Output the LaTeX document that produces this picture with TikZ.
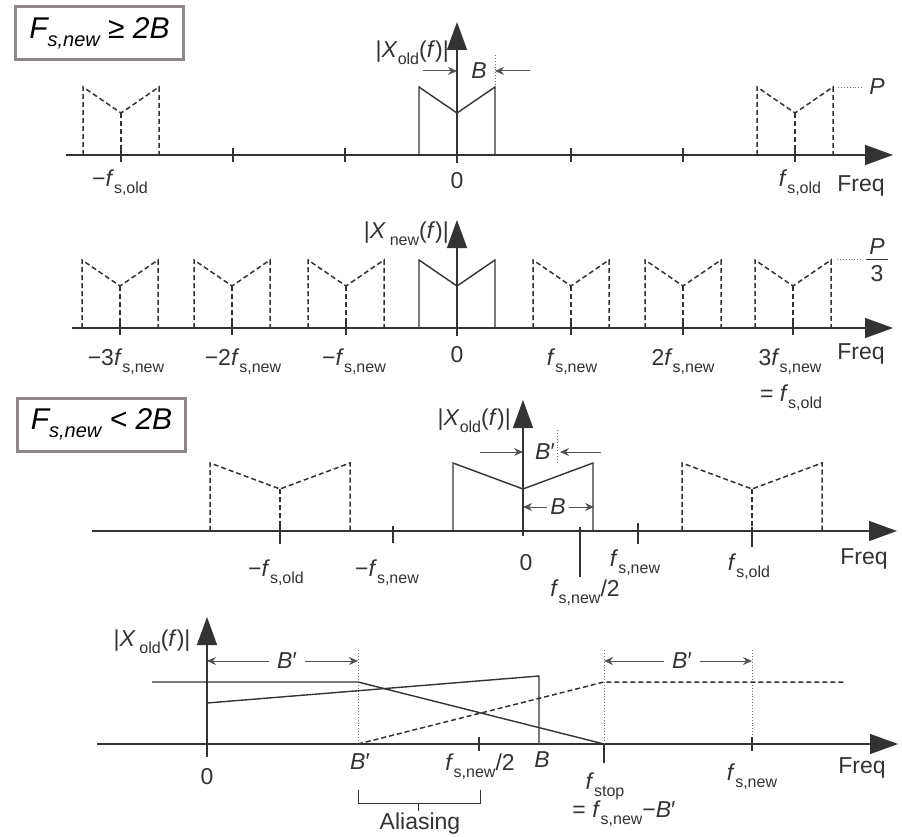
\documentclass[tikz,border=0pt]{standalone}
\usepackage{fontspec}
\setmainfont{Liberation Sans}
\usetikzlibrary{arrows.meta}
\definecolor{ink}{HTML}{333333}
\definecolor{boxgray}{HTML}{8E8787}
\newcommand{\sbs}[1]{\raisebox{-7pt}{\fontsize{16}{16}\selectfont #1}}
\newcommand{\ff}{\textit{f}}
\newcommand{\specshape}[4]{%
  \draw[#4] ({#1-#2},#3) -- ({#1-#2},{#3-68}) -- (#1,{#3-42}) -- ({#1+#2},{#3-68}) -- ({#1+#2},#3);
  \draw[#4] (#1,{#3-42}) -- (#1,#3);}
\begin{document}
\begin{tikzpicture}[x=1pt,y=-1pt,
  lbl/.style={font=\fontsize{23}{26}\selectfont, text=ink, inner sep=0pt},
  axisline/.style={draw=ink, line width=1.4pt},
  bigtip/.style={-{Triangle[length=28pt,width=20pt]}},
  spec/.style={draw=ink, line width=1.4pt},
  dsh/.style={draw=ink, line width=1.5pt, dash pattern=on 5pt off 3pt},
  dotl/.style={draw=ink!70, line width=0.9pt, dotted},
  small/.style={draw=ink!85, line width=1pt, -{Stealth[length=9pt,width=8pt]}},
  tickl/.style={draw=ink, line width=1.4pt},
  casebox/.style={draw=boxgray, line width=3pt, fill=white, minimum width=168pt, minimum height=53pt, inner sep=0pt, font=\fontsize{30}{32}\selectfont\itshape}]
\useasboundingbox (0,0) rectangle (902,837);
\fill[white] (0,0) rectangle (902,837);

% ---------- case boxes
\node[casebox] (case1) at (99.5,33) {F\raisebox{-8pt}{\fontsize{20}{20}\selectfont s,new} ≥ 2B};
\node[casebox] (case2) at (101.5,424.5) {F\raisebox{-8pt}{\fontsize{20}{20}\selectfont s,new} < 2B};

% ---------- panel 1
\draw[axisline,bigtip] (66,155) -- (893,155);
\foreach \x in {121,233,345,571,683,795} \draw[tickl] (\x,148) -- (\x,162);
\specshape{457}{38}{155}{spec}
\specshape{121}{38}{155}{dsh}
\specshape{795}{38}{155}{dsh}
\draw[axisline,bigtip] (457,163) -- (457,22);
\node[lbl] (B1) at (479,71) {\textit{B}};
\draw[small] (423,71) -- (457,71);
\draw[small] (530,71) -- (495,71);
\draw[dotl] (495,55) -- (495,87);
\draw[dotl] (838,87) -- (863,87);
\node[lbl] (P1) at (877,87) {\textit{P}};
\node[lbl, anchor=east] (X1) at (449,53) {|\textit{X}\sbs{old}(\ff)|};
\node[lbl] (l1a) at (120,183) {−\ff\sbs{s,old}};
\node[lbl] (l1b) at (457,181) {0};
\node[lbl] (l1c) at (800,183) {\ff\sbs{s,old}};
\node[lbl] (l1d) at (861,186) {Freq};

% ---------- panel 2
\draw[axisline,bigtip] (72,328) -- (893,328);
\foreach \x in {120,232,346,571,683,793} \draw[tickl] (\x,321) -- (\x,335);
\specshape{457}{38}{328}{spec}
\foreach \x in {120,232,346,571,683,793} {\specshape{\x}{38}{328}{dsh}}
\draw[axisline,bigtip] (457,336) -- (457,220);
\draw[dotl] (837,259) -- (863,259);
\node[lbl] (P2) at (877,247) {\textit{P}};
\draw[ink, line width=1.1pt] (866,259.5) -- (888,259.5);
\node[lbl] (P3) at (877,274) {3};
\node[lbl, anchor=east] (X2) at (449,234) {|\textit{X}\,\sbs{new}(\ff)|};
\node[lbl] (l2a) at (126,362) {−3\ff\sbs{s,new}};
\node[lbl] (l2b) at (243,362) {−2\ff\sbs{s,new}};
\node[lbl] (l2c) at (354,362) {−\ff\sbs{s,new}};
\node[lbl] (l2d) at (457,355) {0};
\node[lbl] (l2e) at (572,362) {\ff\sbs{s,new}};
\node[lbl] (l2f) at (683,362) {2\ff\sbs{s,new}};
\node[lbl] (l2g) at (790,362) {3\ff\sbs{s,new}};
\node[lbl] (l2h) at (791,398) {= \ff\sbs{s,old}};
\node[lbl] (l2i) at (861,354) {Freq};

% ---------- panel 3
\draw[axisline,bigtip] (92,531) -- (897,531);
\draw[tickl] (280,524) -- (280,544);
\draw[tickl] (393,526) -- (393,543);
\draw[tickl] (580,527) -- (580,577);
\draw[tickl] (638,523) -- (638,544);
\draw[tickl] (752,527) -- (752,547);
\specshape{523}{70}{531}{spec}
\specshape{280}{70}{531}{dsh}
\specshape{752}{70}{531}{dsh}
\draw[axisline,bigtip] (523,536) -- (523,400);
\node[lbl] (Bp3) at (545,452) {\textit{B}′};
\draw[small] (480,452) -- (523,452);
\draw[small] (601,452) -- (560,452);
\draw[dotl] (557,430) -- (557,462);
\node[lbl] (B3) at (558,507) {\textit{B}};
\draw[small] (547,507) -- (523,507);
\draw[small] (569,507) -- (594,507);
\node[lbl, anchor=east] (X3) at (511,421) {|\textit{X}\sbs{old}(\ff)|};
\node[lbl] (l3a) at (276,573) {−\ff\sbs{s,old}};
\node[lbl] (l3b) at (387,573) {−\ff\sbs{s,new}};
\node[lbl] (l3c) at (526,563) {0};
\node[lbl] (l3d) at (585,593) {\ff\sbs{s,new}/2};
\node[lbl] (l3e) at (635,563) {\ff\sbs{s,new}};
\node[lbl] (l3f) at (749,567) {\ff\sbs{s,old}};
\node[lbl] (l3g) at (864,559) {Freq};

% ---------- panel 4
\draw[axisline,bigtip] (97,744) -- (898,744);
\draw[axisline,bigtip] (207,757) -- (207,617);
\node[lbl] (X4) at (152,642) {|\textit{X}\,\sbs{old}(\ff)|};
\draw[dotl] (358,650) -- (358,744);
\draw[dotl] (604,650) -- (604,744);
\draw[dotl] (752,650) -- (752,744);
\node[lbl] (Bp4a) at (287,661) {\textit{B}′};
\draw[small] (Bp4a.west) ++(-8,0) -- (207,661);
\draw[small] (Bp4a.east) ++(8,0) -- (358,661);
\node[lbl] (Bp4b) at (682,661) {\textit{B}′};
\draw[small] (Bp4b.west) ++(-8,0) -- (604,661);
\draw[small] (Bp4b.east) ++(8,0) -- (752,661);
\draw[spec] (152,682) -- (358,682) -- (604,744);
\draw[spec] (207,703) -- (539,676) -- (539,744);
\draw[dsh] (358,744) -- (604,682) -- (845,682);
\draw[tickl] (479,737) -- (479,751);
\draw[tickl] (604,744) -- (604,763);
\draw[tickl] (752,737) -- (752,751);
\node[lbl] (l4a) at (207,777) {0};
\node[lbl] (l4b) at (360,762) {\textit{B}′};
\node[lbl] (l4c) at (480,767) {\ff\sbs{s,new}/2};
\node[lbl] (l4d) at (542,760) {\textit{B}};
\node[lbl] (l4e) at (605,786) {\ff\sbs{stop}};
\node[lbl] (l4f) at (624,814) {= \ff\sbs{s,new}−\textit{B}′};
\node[lbl] (l4g) at (752,777) {\ff\sbs{s,new}};
\node[lbl] (l4h) at (862,768) {Freq};
\draw[ink, line width=0.9pt] (358,790) -- (358,803) -- (480,803) -- (480,790);
\draw[ink, line width=0.9pt] (418,803) -- (418,811);
\node[lbl, anchor=base] (alias) at (420,829.5) {Aliasing};
\end{tikzpicture}
\end{document}
